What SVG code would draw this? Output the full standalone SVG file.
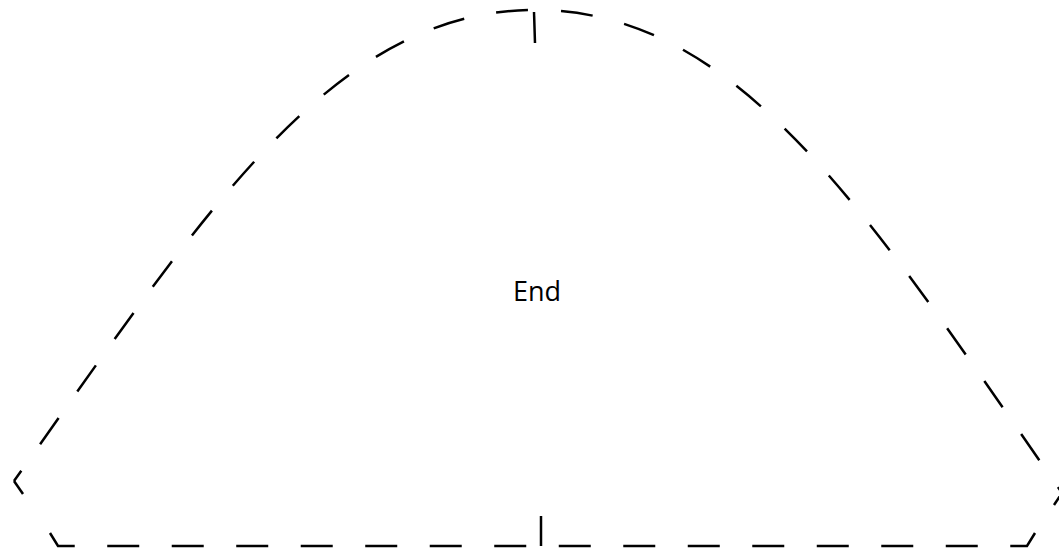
<svg xmlns="http://www.w3.org/2000/svg" width="1059" height="553" viewBox="0 0 1059 553">
  <style>
    .dash { fill: none; stroke: #000; stroke-width: 2.5; stroke-dasharray: 32 32.5; stroke-linecap: butt; stroke-linejoin: miter; }
    .solid { fill: none; stroke: #000; stroke-width: 2.5; stroke-linecap: butt; }
    .label { font-family: "Open Sans", "Liberation Sans", sans-serif; font-size: 27px; fill: #000; }
  </style>
  <rect width="1059" height="553" fill="#fff"/>
  <g id="connectors">
    <line class="solid" x1="534" y1="12" x2="535" y2="43"/>
    <line class="solid" x1="541" y1="516" x2="541" y2="546"/>
  </g>
  <g id="node-end">
    <path class="dash" stroke-dashoffset="-7" d="M 535 10 C 330 10, 200 220, 14 481"/>
    <path class="dash" stroke-dashoffset="-26" d="M 535 10 C 740 10, 868 214, 1062 493"/>
    <polyline class="solid" points="14,481 23,494"/>
    <polyline class="solid" points="1062,493 1054,505"/>
    <path class="dash" d="M 50 533 L 58 546 L 541 546"/>
    <path class="dash" d="M 1035 533 L 1027 546 L 541 546"/>
    <text class="label" x="537" y="301" text-anchor="middle">End</text>
  </g>
</svg>
